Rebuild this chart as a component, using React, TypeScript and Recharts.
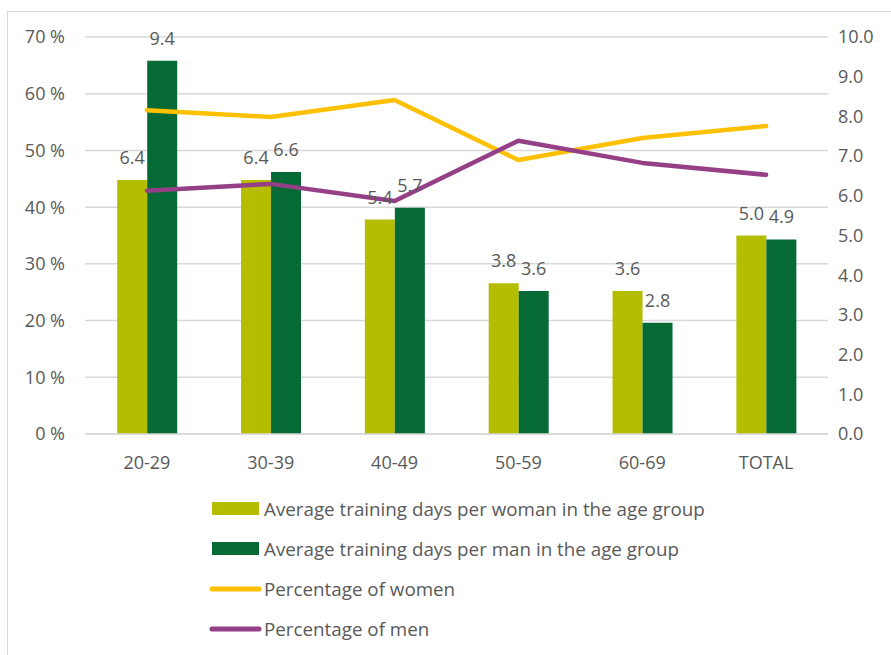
import React from "react";
import {
  ComposedChart,
  Bar,
  Line,
  XAxis,
  YAxis,
  CartesianGrid,
  LabelList,
} from "recharts";

const categories = ["20-29", "30-39", "40-49", "50-59", "60-69", "TOTAL"];
const womanDays = [6.4, 6.4, 5.4, 3.8, 3.6, 5.0];
const manDays = [9.4, 6.6, 5.7, 3.6, 2.8, 4.9];
const pctWomen = [57.1, 55.9, 58.9, 48.3, 52.2, 54.3];
const pctMen = [42.9, 44.1, 41.1, 51.7, 47.8, 45.7];
const leftTicks = [0, 10, 20, 30, 40, 50, 60, 70];
const rightTicks = [0, 1, 2, 3, 4, 5, 6, 7, 8, 9, 10];

const seriesNames = {
  woman: "Average training days per woman in the age group",
  man: "Average training days per man in the age group",
  pw: "Percentage of women",
  pm: "Percentage of men",
};

const COLORS = {
  woman: "#b5bd00",
  man: "#056a35",
  pw: "#ffc000",
  pm: "#943f86",
};

const data = categories.map((c, i) => ({
  cat: c,
  woman: womanDays[i],
  man: manDays[i],
  pw: pctWomen[i],
  pm: pctMen[i],
}));

const FONT = "'Open Sans', 'Noto Sans', sans-serif";
const TXT = "#595959";
const FS = 18;

const legendItems = [
  { key: "woman", type: "bar" },
  { key: "man", type: "bar" },
  { key: "pw", type: "line" },
  { key: "pm", type: "line" },
];

const LegendBox = () => (
  <div
    style={{
      position: "absolute",
      left: 209,
      top: 489,
      fontFamily: FONT,
      fontSize: 18.8,
      color: TXT,
    }}
  >
    {legendItems.map((it) => (
      <div
        key={it.key}
        style={{ display: "flex", alignItems: "center", height: 40 }}
      >
        <svg width={54} height={20} style={{ display: "block" }}>
          {it.type === "bar" ? (
            <rect x={3} y={3} width={47} height={13} fill={(COLORS as any)[it.key]} />
          ) : (
            <line
              x1={3}
              x2={50}
              y1={10}
              y2={10}
              stroke={(COLORS as any)[it.key]}
              strokeWidth={5}
              strokeLinecap="round"
            />
          )}
        </svg>
        <span style={{ marginLeft: 1, whiteSpace: "nowrap" }}>
          {(seriesNames as any)[it.key]}
        </span>
      </div>
    ))}
  </div>
);

export default function App() {
  return (
    <div
      style={{
        position: "absolute",
        left: 0,
        top: 0,
        width: 891,
        height: 655,
        overflow: "hidden",
        background: "#fff",
      }}
    >
      <div
        style={{
          position: "absolute",
          left: 7,
          top: 11,
          width: 1000,
          height: 1000,
          border: "1px solid #d9d9d9",
          boxSizing: "border-box",
        }}
      />
      <div style={{ position: "absolute", left: 0, top: 0 }}>
        <ComposedChart
          width={891}
          height={655}
          data={data}
          margin={{ top: 37, right: 0, bottom: 191, left: 0 }}
          barCategoryGap="26%"
          barGap={0}
        >
          <CartesianGrid
            yAxisId="left"
            vertical={false}
            stroke="#d9d9d9"
            strokeWidth={1.5}
          />
          <XAxis
            dataKey="cat"
            axisLine={{ stroke: "#d9d9d9", strokeWidth: 1.5 }}
            tickLine={false}
            tickMargin={16}
            height={30}
            tick={{ fill: TXT, fontSize: FS, fontFamily: FONT }}
          />
          <YAxis
            yAxisId="left"
            orientation="left"
            domain={[0, 70]}
            ticks={leftTicks}
            interval={0}
            width={85}
            axisLine={false}
            tickLine={false}
            tickMargin={14}
            tickFormatter={(v: number) => `${v} %`}
            tick={{ fill: TXT, fontSize: FS, fontFamily: FONT }}
          />
          <YAxis
            yAxisId="right"
            orientation="right"
            domain={[0, 10]}
            ticks={rightTicks}
            interval={0}
            width={63}
            axisLine={false}
            tickLine={false}
            tickMargin={4}
            tickFormatter={(v: number) => v.toFixed(1)}
            tick={{ fill: TXT, fontSize: FS, fontFamily: FONT }}
          />
          <Bar
            yAxisId="right"
            dataKey="woman"
            name={seriesNames.woman}
            fill={COLORS.woman}
            isAnimationActive={false}
          >
            <LabelList
              dataKey="woman"
              position="top"
              offset={16}
              formatter={(v: number) => v.toFixed(1)}
              style={{ fill: TXT, fontSize: FS, fontFamily: FONT }}
            />
          </Bar>
          <Bar
            yAxisId="right"
            dataKey="man"
            name={seriesNames.man}
            fill={COLORS.man}
            isAnimationActive={false}
          >
            <LabelList
              dataKey="man"
              position="top"
              offset={16}
              formatter={(v: number) => v.toFixed(1)}
              style={{ fill: TXT, fontSize: FS, fontFamily: FONT }}
            />
          </Bar>
          <Line
            yAxisId="left"
            dataKey="pw"
            name={seriesNames.pw}
            stroke={COLORS.pw}
            strokeWidth={4.5}
            dot={false}
            activeDot={false}
            strokeLinecap="round"
            strokeLinejoin="round"
            isAnimationActive={false}
          />
          <Line
            yAxisId="left"
            dataKey="pm"
            name={seriesNames.pm}
            stroke={COLORS.pm}
            strokeWidth={4.5}
            dot={false}
            activeDot={false}
            strokeLinecap="round"
            strokeLinejoin="round"
            isAnimationActive={false}
          />
        </ComposedChart>
      </div>
      <LegendBox />
    </div>
  );
}
